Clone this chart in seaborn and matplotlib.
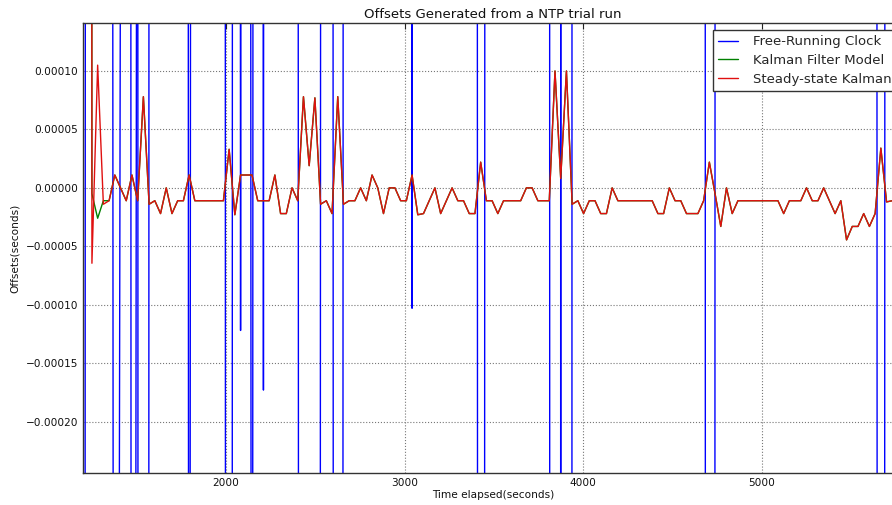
import numpy as np
import pandas as pd
import matplotlib
matplotlib.use("Agg")
import matplotlib.pyplot as plt
from matplotlib.ticker import MultipleLocator, FuncFormatter
import seaborn as sns

# NTP poll schedule: one offset sample every 32 s
poll_interval = 32.0
clock_start = 1186.0     # first free-running clock reading
filter_start = 1218.0    # first filter output

# Offsets in units of 1e-5 s, one value per poll
free_running_clock = [
    -980, 200, 300, 300, 300, 457, -225, 25, 1368, -300,
    100, -2400, 87, 300, 300, 300, 300, 300, 1000, -150,
    532, 300, 300, 300, 300, 654, -1270, 1000, -12.2, 705,
    -176, 1000, -17.3, 1000, 300, 300, 300, 300, 111, -1000,
    -600, -980, 20, 300, 312, -1330, 100, 300, 300, 300,
    300, 300, 300, 300, 300, 300, 300, 1000, -10.3, 1000,
    300, 300, 300, 300, 300, 300, 300, 300, 300, 739,
    -980, 400, 300, 300, 300, 300, 300, 300, 300, 300,
    300, 300, 376, -5000, 20, -5000, 155, 300, 300, 300,
    300, 300, 300, 300, 300, 300, 300, 300, 300, 300,
    300, 300, 300, 300, 300, 300, 300, 300, 300, 808,
    -1980, 20, 300, 300, 300, 300, 300, 300, 300, 300,
    300, 300, 300, 300, 300, 300, 300, 300, 300, 300,
    300, 300, 300, 300, 300, 300, 300, 300, 300, 492,
    -1000, 449, 300, 300, 300,
]

steady_state_kalman = [
    1000, -6.45, 10.5, -1.4, -1.1, 1.1, 0, -1.1, 1.1, -1.1,
    7.8, -1.4, -1.1, -2.2, 0, -2.2, -1.1, -1.1, 1.1, -1.1,
    -1.1, -1.1, -1.1, -1.1, -1.1, 3.3, -2.3, 1.1, 1.1, 1.1,
    -1.1, -1.1, -1.1, 1.1, -2.2, -2.2, 0, -1.1, 7.8, 1.9,
    7.7, -1.4, -1.1, -2.2, 7.8, -1.4, -1.1, -1.1, 0, -1.1,
    1.1, 0, -2.2, 0, 0, -1.1, -1.1, 1.1, -2.3, -2.2,
    -1.1, 0, -2.2, -1.1, 0, -1.1, -1.1, -2.2, -2.2, 2.2,
    -1.1, -1.1, -2.2, -1.1, -1.1, -1.1, -1.1, 0, 0, -1.1,
    -1.1, -1.1, 10.0, 0.8, 10.0, -1.4, -1.1, -2.2, -1.1, -1.1,
    -2.2, -2.2, 0, -1.1, -1.1, -1.1, -1.1, -1.1, -1.1, -1.1,
    -2.2, -2.2, 0, -1.1, -1.1, -2.2, -2.2, -2.2, -1.1, 2.2,
    -0.5, -3.3, 0, -2.2, -1.1, -1.1, -1.1, -1.1, -1.1, -1.1,
    -1.1, -1.1, -2.2, -1.1, -1.1, -1.1, 0, -1.1, -1.1, 0,
    -1.1, -2.2, -1.1, -4.45, -3.3, -3.3, -2.2, -3.3, -2.2, 3.4,
    -1.2, -1.1, -1.1, -1.1,
]

# The full Kalman model differs only during its warm-up polls,
# after which it settles onto the steady-state output.
kalman_warmup = [1000, -0.5, -2.6, -1.1]
kalman_filter_model = kalman_warmup + steady_state_kalman[len(kalman_warmup):]

series_names = ["Free-Running Clock", "Kalman Filter Model", "Steady-state Kalman"]
series_colors = ["#0000ff", "#008000", "#e01010"]
offset_unit = 1e-5


def frame(name, start, values):
    times = start + poll_interval * np.arange(len(values))
    return pd.DataFrame({"time": times,
                         "offset": np.asarray(values, dtype=float) * offset_unit,
                         "series": name})


df = pd.concat([
    frame(series_names[0], clock_start, free_running_clock),
    frame(series_names[1], filter_start, kalman_filter_model),
    frame(series_names[2], filter_start, steady_state_kalman),
], ignore_index=True)

sns.set_theme(style="white")
plt.rcParams["font.family"] = ["DejaVu Sans"]
plt.rcParams["axes.unicode_minus"] = True

W, H = 892, 505
fig = plt.figure(figsize=(W / 100, H / 100), dpi=100, facecolor="white")
ax = fig.add_axes([83 / W, 1 - 472.7 / H, 820 / W, 449.4 / H])
ax.set_facecolor("white")

sns.lineplot(data=df, x="time", y="offset", hue="series",
             hue_order=series_names, palette=dict(zip(series_names, series_colors)),
             estimator=None, sort=False, linewidth=1.0, ax=ax)

ax.set_xlim(1200, 5790)
ax.set_ylim(-0.0002437, 0.0001408)
ax.xaxis.set_major_locator(MultipleLocator(1000))
ax.yaxis.set_major_locator(MultipleLocator(5e-5))


def fmt_offset(v, _pos):
    s = f"{v:.5f}"
    if s == "-0.00000":
        s = "0.00000"
    return s.replace("-", "\u2212")


ax.yaxis.set_major_formatter(FuncFormatter(fmt_offset))

ax.grid(True, linestyle=":", color="#777777", linewidth=0.8)
ax.tick_params(direction="in", length=4, width=0.8, top=True, right=True,
               labelsize=7.6, pad=3.5, colors="#222222", labelcolor="#111111")
for sp in ax.spines.values():
    sp.set_color("#333333")
    sp.set_linewidth(1.0)

ax.set_title("Offsets Generated from a NTP trial run", fontsize=9.5, pad=4, color="#111111")
ax.set_xlabel("Time elapsed(seconds)", fontsize=7.6, labelpad=2, color="#111111")
ax.set_ylabel("Offsets(seconds)", fontsize=7.6, labelpad=4, color="#111111")

handles, labels = ax.get_legend_handles_labels()
leg = ax.legend(handles, labels, loc="upper right", fontsize=9.5, frameon=True,
                fancybox=False, edgecolor="#333333", framealpha=1,
                borderpad=0.4, labelspacing=0.45, handlelength=1.5,
                handletextpad=1.1, borderaxespad=0.5)
leg.get_frame().set_linewidth(1.0)

fig.savefig("out.png", dpi=100, facecolor="white")
